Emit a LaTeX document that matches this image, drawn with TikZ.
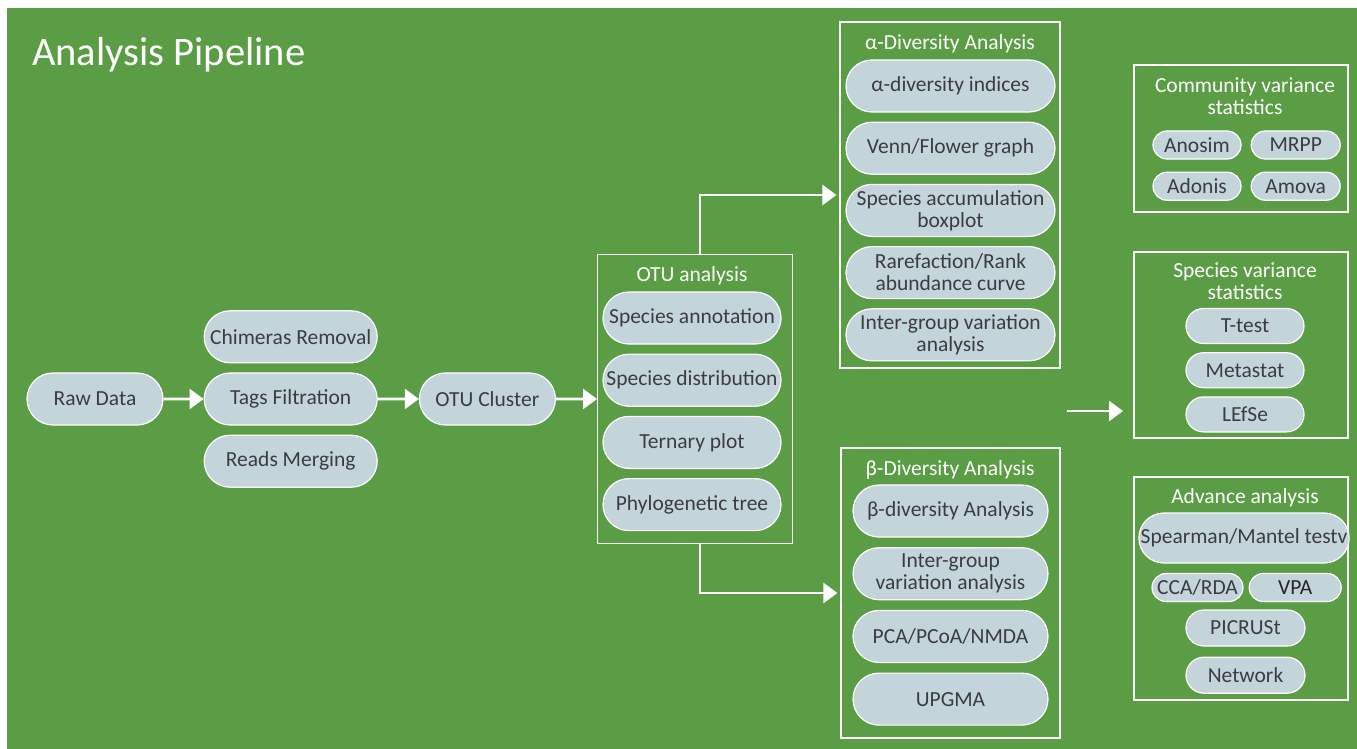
\documentclass[tikz,border=0pt]{standalone}
\usepackage{fontspec}
\setmainfont{Carlito}
\usetikzlibrary{shapes,arrows.meta,positioning}
\definecolor{bggreen}{RGB}{91,157,69}
\definecolor{pillfill}{RGB}{195,213,219}
\definecolor{pilltext}{RGB}{60,60,64}

\begin{document}
\begin{tikzpicture}[x=1pt,y=-1pt]
  \tikzset{pill node/.style={rounded rectangle, draw=white, line width=1.2pt,
		fill=pillfill, text=pilltext, align=center, inner sep=0pt,
		font=\fontsize{21.5}{22}\selectfont}, }
\tikzset{group node/.style={rectangle, draw=white, line width=1.2pt}, }
\tikzset{head node/.style={text=white, align=center, inner sep=0pt,
		font=\fontsize{21.5}{22}\selectfont}, }
\tikzset{linea/.style={draw=white, line width=2.6pt,
		-{Triangle[length=14pt,width=20pt]}},}
\useasboundingbox (0,0) rectangle (1357,749);
\fill[bggreen] (7,8) rectangle (1357,749);
   \node[anchor=base west, text=white, inner sep=0pt,
     font=\fontsize{40.5}{42}\selectfont] (title) at (32,66) {Analysis Pipeline};
%
   \node[pill node, minimum width=136pt, minimum height=52pt] (raw) at (95,399) {Raw Data};
   \node[pill node, minimum width=173pt, minimum height=52pt] (tags) [right =40pt of raw] {Tags Filtration};
   \node[pill node, minimum width=173pt, minimum height=52pt] (chim) [above =9pt of tags] {Chimeras Removal};
   \node[pill node, minimum width=173pt, minimum height=52pt] (reads) [below =9pt of tags] {Reads Merging};
   \node[pill node, minimum width=136pt, minimum height=52pt] (cluster) [right =41pt of tags] {OTU Cluster};
%
   \node[group node, minimum width=195pt, minimum height=289pt] (otu) [right =41pt of cluster] {};
   \node[head node] (otu head) at (692,276) {OTU analysis};
   \node[pill node, minimum width=178pt, minimum height=52pt] (annot) at (692,318) {Species annotation};
   \node[pill node, minimum width=178pt, minimum height=52pt] (distr) [below =9pt of annot] {Species distribution};
   \node[pill node, minimum width=178pt, minimum height=52pt] (tern) [below =9pt of distr] {Ternary plot};
   \node[pill node, minimum width=178pt, minimum height=52pt] (phylo) [below =9pt of tern] {Phylogenetic tree};
%
   \node[group node, minimum width=220pt, minimum height=346pt] (alpha) at (950,195) {};
   \node[head node] (alpha head) at (950,44) {α-Diversity Analysis};
   \node[pill node, minimum width=209pt, minimum height=52pt] (aind) at (950.5,86) {α-diversity indices};
   \node[pill node, minimum width=209pt, minimum height=52pt] (venn) [below =9pt of aind] {Venn/Flower graph};
   \node[pill node, minimum width=209pt, minimum height=52pt] (accum) [below =9pt of venn] {Species accumulation\\boxplot};
   \node[pill node, minimum width=209pt, minimum height=52pt] (rare) [below =9pt of accum] {Rarefaction/Rank\\abundance curve};
   \node[pill node, minimum width=209pt, minimum height=52pt] (ainter) [below =9pt of rare] {Inter-group variation\\analysis};
%
   \node[group node, minimum width=219pt, minimum height=290pt] (beta) at (950.5,593) {};
   \node[head node] (beta head) at (950,470) {β-Diversity Analysis};
   \node[pill node, minimum width=195pt, minimum height=52pt] (bind) at (950.5,511) {β-diversity Analysis};
   \node[pill node, minimum width=195pt, minimum height=52pt] (binter) [below =9.5pt of bind] {Inter-group\\variation analysis};
   \node[pill node, minimum width=195pt, minimum height=52pt] (pca) [below =9.5pt of binter] {PCA/PCoA/NMDA};
   \node[pill node, minimum width=195pt, minimum height=52pt] (upgma) [below =9.5pt of pca] {UPGMA};
%
   \node[group node, minimum width=214pt, minimum height=147pt] (comm) at (1241,138.5) {};
   \node[head node] (comm head) at (1245,96) {Community variance\\statistics};
   \node[pill node, minimum width=88pt, minimum height=28pt] (anosim) at (1197,145) {Anosim};
   \node[pill node, minimum width=89pt, minimum height=28pt] (mrpp) [right =9pt of anosim] {MRPP};
   \node[pill node, minimum width=88pt, minimum height=28pt] (adonis) [below =12pt of anosim] {Adonis};
   \node[pill node, minimum width=89pt, minimum height=28pt] (amova) [right =9pt of adonis] {Amova};
%
   \node[group node, minimum width=214pt, minimum height=186pt] (spec) at (1241,345) {};
   \node[head node] (spec head) at (1245,281) {Species variance\\statistics};
   \node[pill node, minimum width=118pt, minimum height=35pt] (ttest) at (1245,326) {T-test};
   \node[pill node, minimum width=118pt, minimum height=35pt] (meta) [below =8pt of ttest] {Metastat};
   \node[pill node, minimum width=118pt, minimum height=35pt] (lefse) [below =8pt of meta] {LEfSe};
%
   \node[group node, minimum width=214pt, minimum height=223pt] (adv) at (1241,588.5) {};
   \node[head node] (adv head) at (1245,498) {Advance analysis};
   \node[pill node, minimum width=202pt, minimum height=50pt] (spear) at (1244,538) {Spearman/Mantel testv};
   \node[pill node, minimum width=91pt, minimum height=28pt] (cca) at (1197.5,587.5) {CCA/RDA};
   \node[pill node, minimum width=92pt, minimum height=28pt, text=black!85] (vpa) [right =5pt of cca] {VPA};
   \node[pill node, minimum width=119pt, minimum height=36pt] (picr) at (1245.5,628) {PICRUSt};
   \node[pill node, minimum width=119pt, minimum height=36pt] (net) [below =10pt of picr] {Network};
%
\foreach \x /\y in{raw/tags,tags/cluster,cluster/otu}
  \draw[linea] (\x) -- (\y);
\draw[linea, shorten >=3pt] ([xshift=5pt]otu.north) |- (alpha.west);
\draw[linea, shorten >=3pt] ([xshift=5pt]otu.south) |- (beta.west);
\coordinate (sv from) at (1067,411);
\coordinate (sv to) at (1123,411);
\draw[linea] (sv from) -- (sv to);
%
\end{tikzpicture}
\end{document}
